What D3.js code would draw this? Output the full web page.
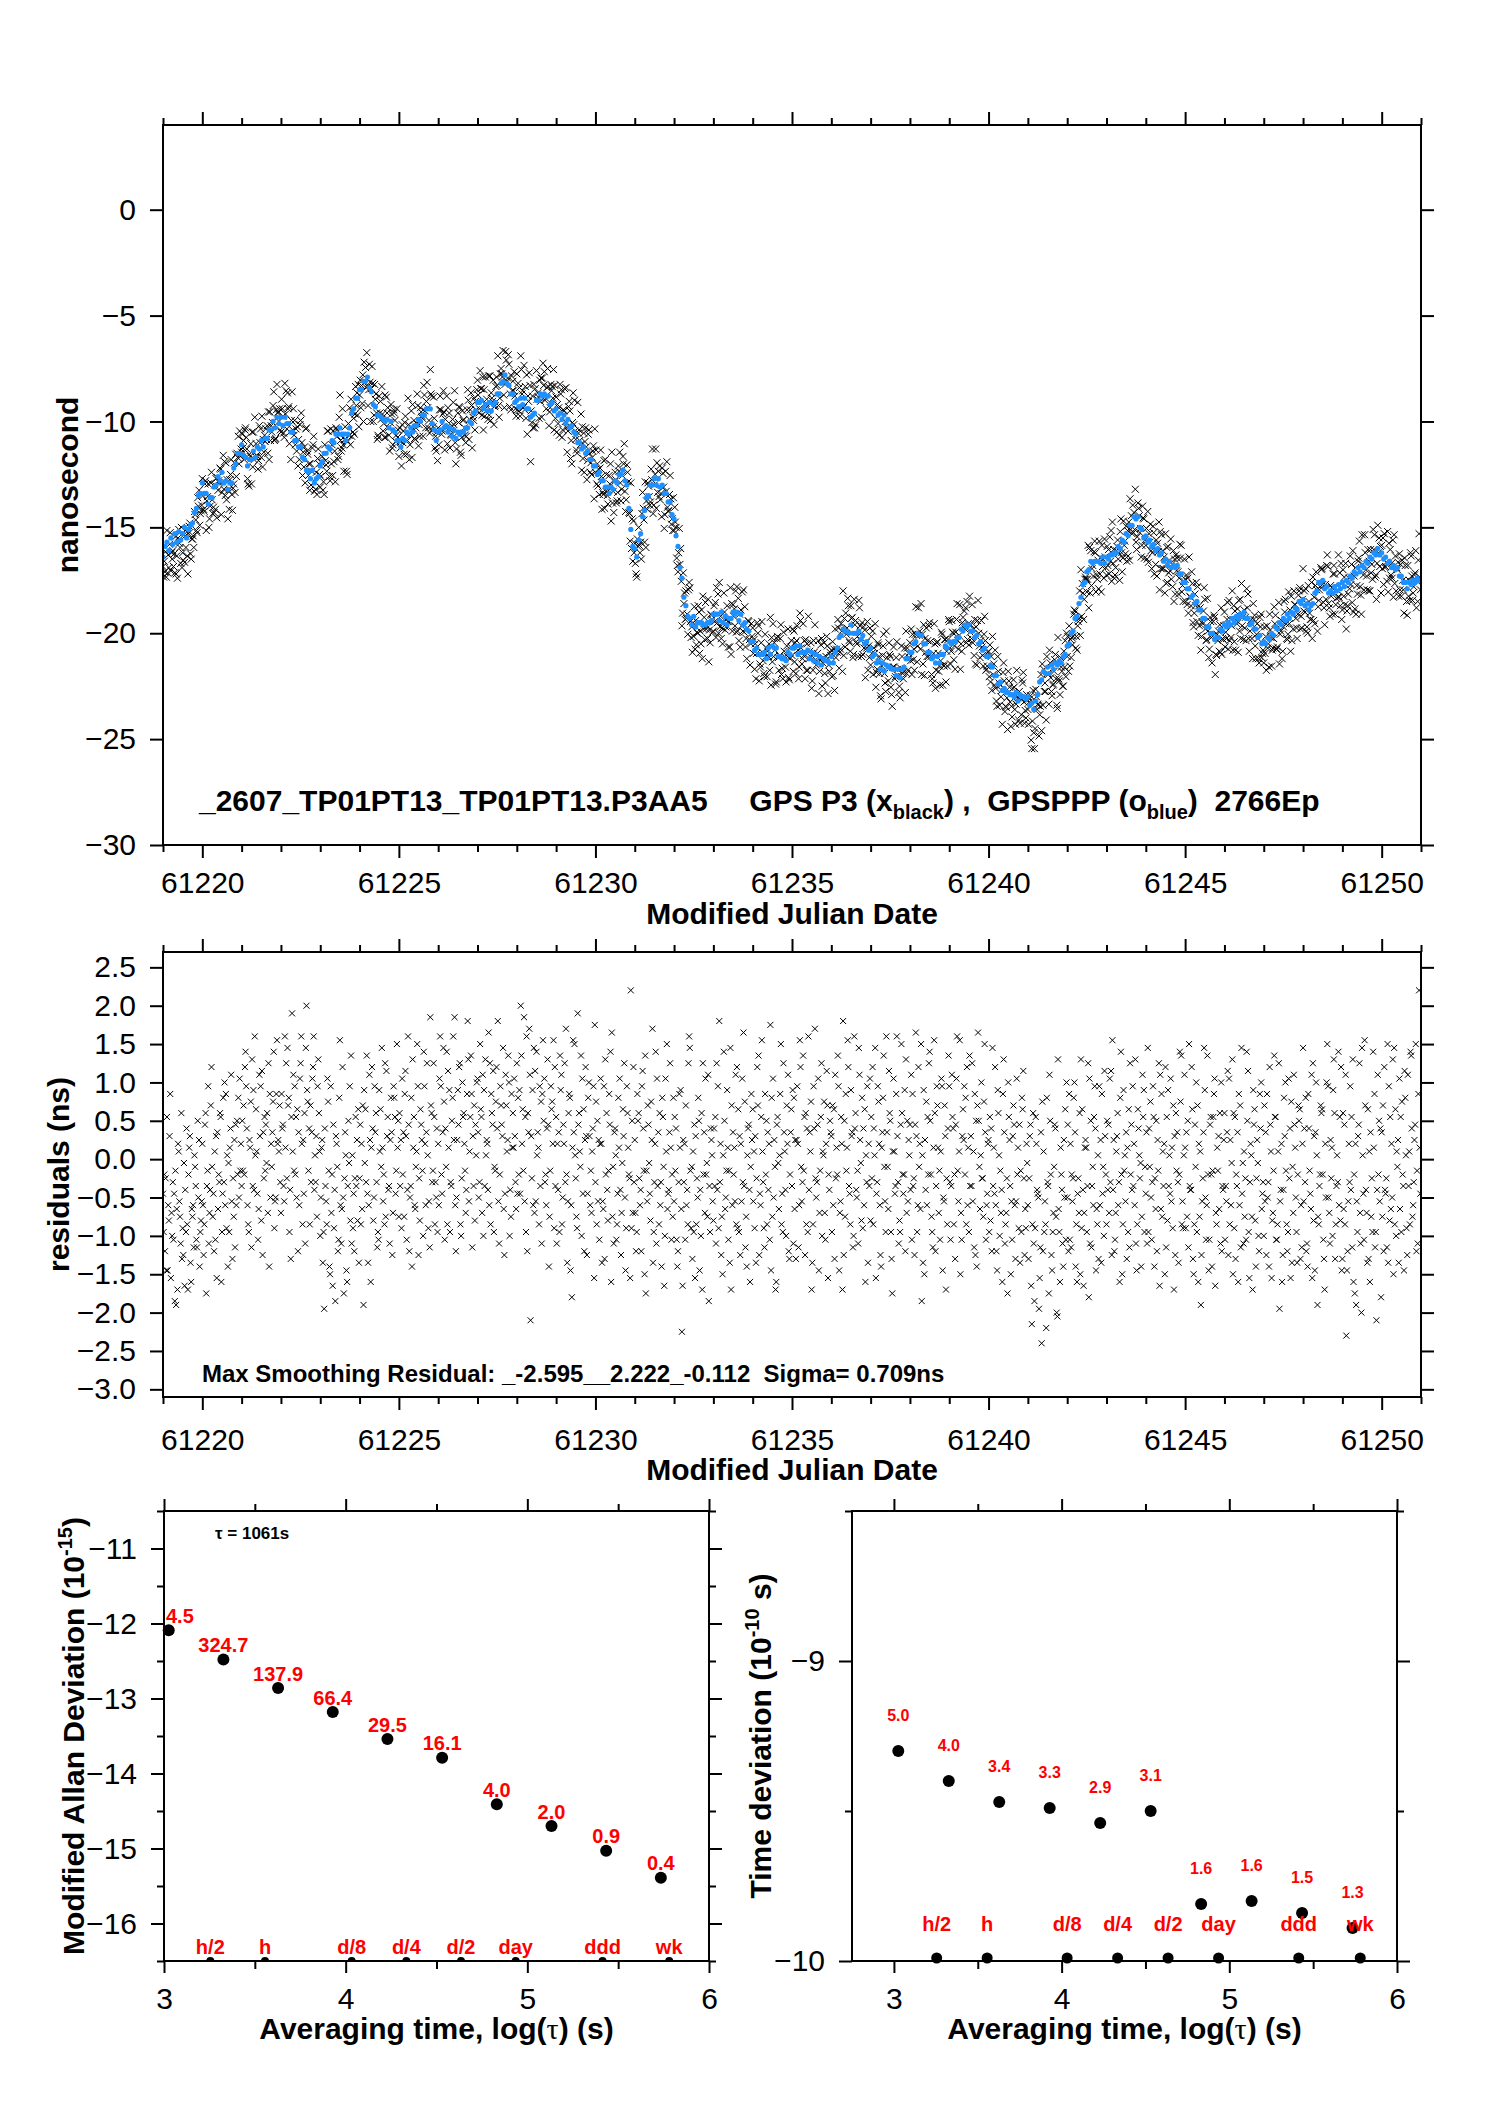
<!DOCTYPE html>
<html><head><meta charset="utf-8">
<script src="https://cdn.jsdelivr.net/npm/d3@7"></script>
<style>
body{margin:0;background:#fff;}
svg{display:block;font-family:"Liberation Sans",Arial,Helvetica,sans-serif;}
</style></head><body>
<svg id="chart" width="1488" height="2105"></svg>
<script>
// ---------------- DATA ----------------
const mjdStart = 61219.0;      // first sample (MJD)
const mjdStep = 0.05;          // blue sample spacing (day); black sets A,B,C are offset by 0, 1/3, 2/3 step
// smoothed GPSPPP series (blue), ns, 20 samples per day
const blueNs = [
-16.4,-15.9,-15.7,-16.1,-15.5,-15.8,-15.3,-15.7,-15.2,-15.6,-15.3,-15.0,-15.5,-15.1,-14.9,-14.8,-14.3,-14.1,-13.5,-13.4,
-12.9,-13.4,-13.4,-13.9,-13.6,-13.6,-13.1,-13.0,-12.6,-12.8,-12.4,-12.9,-12.8,-13.2,-12.9,-12.9,-12.2,-12.0,-11.5,-11.5,
-11.1,-11.6,-11.7,-12.1,-11.8,-11.8,-11.4,-11.7,-11.2,-11.3,-10.9,-11.2,-10.8,-10.8,-10.4,-10.4,-10.0,-10.3,-9.8,-10.1,
-9.8,-10.2,-9.8,-10.1,-10.1,-10.5,-10.5,-10.9,-10.9,-11.2,-11.2,-11.7,-11.8,-12.3,-12.4,-12.7,-12.3,-12.9,-12.7,-12.6,
-12.1,-11.9,-11.5,-11.5,-11.2,-11.3,-10.9,-11.0,-10.6,-10.6,-10.3,-10.6,-10.6,-10.9,-10.6,-10.3,-9.6,-9.4,-8.9,-8.9,
-8.5,-8.5,-8.1,-8.1,-7.9,-8.4,-8.6,-9.2,-9.3,-9.7,-9.7,-9.8,-9.9,-10.0,-9.9,-10.3,-10.0,-10.4,-10.5,-10.9,
-10.9,-11.2,-10.8,-10.9,-10.5,-10.6,-10.3,-10.5,-10.2,-10.2,-9.9,-10.0,-9.7,-9.7,-9.4,-9.4,-9.4,-10.1,-10.4,-10.9,
-10.5,-10.4,-10.0,-10.3,-10.2,-10.5,-10.3,-10.7,-10.4,-10.8,-10.5,-10.6,-10.5,-10.5,-10.3,-10.3,-10.0,-10.1,-9.6,-9.5,
-9.1,-9.1,-9.0,-9.4,-9.2,-9.5,-9.1,-9.5,-9.2,-9.1,-8.7,-8.7,-8.2,-8.1,-7.8,-8.2,-8.3,-8.7,-8.7,-9.1,
-9.0,-9.3,-8.9,-9.2,-8.9,-9.4,-9.4,-9.8,-9.7,-9.6,-9.0,-9.0,-8.7,-8.8,-8.7,-8.8,-8.8,-9.2,-9.1,-9.5,
-9.4,-9.7,-9.6,-9.9,-9.7,-10.1,-9.9,-10.3,-10.2,-10.5,-10.6,-11.0,-11.0,-11.3,-11.2,-11.5,-11.4,-11.8,-11.8,-12.1,
-12.1,-12.5,-12.4,-12.8,-12.8,-13.1,-13.1,-13.4,-13.1,-13.2,-12.8,-12.9,-12.5,-12.5,-12.3,-12.8,-13.0,-14.1,-15.1,-15.9,
-16.0,-16.4,-15.6,-15.3,-14.5,-14.2,-13.6,-13.5,-13.0,-13.0,-12.7,-13.0,-12.7,-13.1,-13.0,-13.4,-13.4,-13.8,-13.8,-14.4,
-14.6,-15.4,-15.9,-16.9,-17.4,-18.3,-18.7,-19.2,-19.3,-19.6,-19.2,-19.7,-19.5,-19.5,-19.5,-19.6,-19.6,-19.5,-19.5,-19.4,
-19.1,-19.1,-19.1,-19.4,-19.0,-19.5,-19.2,-19.6,-19.3,-19.3,-19.0,-19.1,-19.0,-19.4,-19.1,-19.6,-19.5,-19.8,-19.9,-20.4,
-20.4,-20.8,-20.7,-21.0,-21.0,-21.0,-20.9,-21.2,-20.7,-21.0,-20.6,-20.7,-20.7,-21.1,-21.1,-21.2,-21.2,-21.3,-20.9,-21.0,
-20.7,-20.7,-20.6,-21.0,-20.6,-20.9,-20.9,-20.9,-20.8,-21.2,-20.9,-21.3,-21.0,-21.4,-21.1,-21.5,-21.2,-21.3,-21.3,-21.4,
-21.1,-21.4,-20.9,-20.7,-20.2,-20.1,-19.8,-19.9,-19.9,-20.0,-19.6,-20.0,-20.0,-20.0,-19.9,-20.3,-20.1,-20.5,-20.4,-20.8,
-20.7,-21.1,-21.0,-21.4,-21.3,-21.7,-21.4,-21.8,-21.5,-21.6,-21.6,-21.7,-21.7,-22.0,-21.7,-22.1,-21.7,-21.6,-21.2,-21.2,
-20.9,-20.9,-20.5,-20.4,-20.0,-20.1,-20.1,-20.5,-20.5,-20.9,-20.9,-21.2,-21.1,-21.4,-21.1,-21.4,-21.0,-21.0,-20.6,-20.7,
-20.4,-20.5,-20.4,-20.4,-20.2,-20.2,-19.8,-19.9,-19.6,-19.7,-19.6,-19.9,-19.9,-20.2,-20.1,-20.5,-20.4,-20.8,-20.7,-21.1,
-21.1,-21.5,-21.6,-22.0,-22.0,-22.4,-22.3,-22.7,-22.6,-22.8,-22.8,-22.9,-22.9,-23.0,-22.8,-23.2,-22.9,-23.0,-23.0,-23.1,
-23.0,-23.4,-23.3,-23.6,-23.2,-22.9,-22.3,-22.2,-21.8,-21.9,-21.6,-21.9,-21.5,-21.7,-21.4,-21.5,-21.3,-21.4,-21.1,-21.0,
-20.6,-20.5,-20.0,-19.9,-19.3,-19.2,-18.6,-18.3,-17.7,-17.6,-17.1,-17.0,-16.6,-16.7,-16.6,-16.6,-16.6,-16.7,-16.4,-16.7,
-16.4,-16.5,-16.3,-16.3,-16.2,-16.2,-15.9,-16.0,-15.6,-15.7,-15.3,-15.4,-14.9,-14.9,-14.5,-14.6,-14.5,-15.0,-15.1,-15.5,
-15.4,-15.7,-15.6,-15.9,-15.8,-16.1,-16.0,-16.3,-16.2,-16.6,-16.5,-16.8,-16.6,-16.9,-16.8,-16.9,-16.8,-17.2,-17.2,-17.6,
-17.6,-17.9,-17.9,-18.3,-18.2,-18.6,-18.5,-18.9,-18.9,-19.3,-19.3,-19.7,-19.7,-20.0,-20.0,-20.3,-20.2,-20.2,-19.8,-19.9,
-19.6,-19.7,-19.5,-19.6,-19.3,-19.5,-19.2,-19.3,-19.1,-19.2,-19.0,-19.3,-19.3,-19.6,-19.5,-19.8,-19.8,-20.2,-20.1,-20.5,
-20.4,-20.5,-20.2,-20.3,-20.0,-20.1,-19.7,-19.8,-19.5,-19.6,-19.3,-19.4,-19.1,-19.3,-19.0,-19.1,-18.8,-18.9,-18.5,-18.6,
-18.4,-18.7,-18.6,-18.9,-18.7,-18.6,-18.1,-18.0,-17.6,-17.6,-17.5,-17.9,-17.8,-18.1,-18.0,-18.1,-17.8,-18.0,-17.7,-17.9,
-17.6,-17.8,-17.5,-17.6,-17.3,-17.4,-17.1,-17.2,-16.9,-17.1,-16.8,-16.9,-16.6,-16.7,-16.4,-16.5,-16.2,-16.3,-16.0,-16.3,
-16.2,-16.5,-16.4,-16.7,-16.6,-16.9,-16.8,-17.0,-16.9,-17.3,-17.3,-17.6,-17.6,-17.9,-17.6,-17.7,-17.5,-17.6,-17.4,-17.5
];
// smoothing residuals of GPS P3 (black) about the blue curve, ns — set A (offset 0)
const residA = [
-0.45,-1.20,0.55,-0.80,-1.55,-0.30,-1.85,-0.65,0.10,-1.10,-0.90,-1.65,0.40,-0.20,-1.35,-0.75,0.05,-1.05,-0.50,-0.95,
0.20,-0.85,-1.75,0.95,-0.40,-0.10,-1.20,0.30,-0.65,0.60,-0.95,-0.30,0.85,-1.40,0.15,-0.55,-0.75,0.45,-0.20,1.05,
-0.35,0.70,1.40,-0.60,0.25,-1.15,0.90,0.05,-0.45,1.10,-0.80,0.35,-0.15,0.60,-1.40,0.20,0.75,-0.55,1.55,0.10,
-0.70,0.45,1.60,-0.25,0.80,-1.30,0.10,0.95,-0.50,0.35,1.25,-0.85,0.60,2.00,-0.15,0.70,1.05,-0.40,0.30,1.30,
-1.00,0.25,-1.95,-0.55,0.75,-1.50,-0.20,-0.90,0.30,-1.20,1.55,-0.65,-1.75,0.05,-0.35,0.95,-1.10,-0.45,0.55,-0.80,
-0.25,0.20,-1.90,0.65,-0.45,1.10,0.15,-0.80,0.35,-1.15,0.90,-0.10,-0.55,1.25,0.30,-0.35,0.80,-0.70,0.55,1.50,
-0.75,0.25,-0.20,0.85,-1.05,0.45,-0.35,1.30,-0.60,0.10,-1.25,0.65,-0.15,0.95,0.35,-0.90,1.85,-0.30,0.55,-0.50,
0.20,1.60,-0.45,0.75,-0.10,1.15,-0.95,0.50,0.25,-1.20,0.90,1.25,-0.25,0.60,-0.70,1.80,0.10,0.85,-0.35,0.45,
1.05,-0.30,0.55,-1.00,1.30,0.20,-0.60,0.85,1.15,-0.15,0.40,-1.10,0.70,1.45,-0.45,0.10,1.00,-0.75,0.60,0.30,
1.25,-0.20,2.00,0.65,-0.55,1.60,0.35,-2.10,0.90,-0.70,1.40,0.15,-0.35,0.85,1.05,-0.60,0.45,-0.15,0.75,-0.90,
0.55,-0.40,1.35,-0.85,0.20,1.70,-0.55,0.80,-1.80,0.35,-0.25,1.90,0.10,-1.00,0.65,1.20,-0.45,0.30,-0.70,0.95,
-0.30,0.50,-1.05,0.20,-0.65,1.30,-0.40,0.85,-1.60,-0.10,0.40,-0.85,0.15,-1.25,0.65,-0.50,0.95,-0.20,2.20,-0.70,
0.25,-0.95,0.60,-0.40,1.15,-1.50,-0.15,0.45,-0.80,1.70,-0.30,-1.10,0.35,-0.60,0.80,-1.65,0.10,-0.45,1.25,-0.20,
-0.55,0.40,-1.20,0.15,-2.25,-0.30,0.70,-0.85,1.45,-0.10,-0.95,0.30,-0.50,-1.45,0.60,-0.20,1.05,-0.75,-0.35,0.25,
-0.80,0.55,-0.40,1.80,-1.25,0.05,-0.65,0.90,-0.15,-1.70,0.35,-0.55,1.20,-0.95,0.20,-0.30,0.75,-1.40,0.45,-0.10,
0.65,-0.90,-0.25,1.35,-0.60,0.10,-1.15,0.50,-0.40,1.75,-0.75,0.25,-1.60,-0.05,0.85,-0.45,0.35,-1.00,1.10,-0.20,
-0.35,0.80,-1.30,0.20,1.55,-0.55,-0.15,0.60,-0.95,0.35,-1.70,0.95,-0.25,0.45,-0.70,1.25,0.05,-1.05,0.70,-0.40,
0.30,-0.60,1.10,-0.20,-1.45,0.55,1.80,-0.75,0.15,-0.35,0.90,-1.15,0.40,-0.50,1.45,-0.05,-0.90,0.65,-0.30,0.20,
-0.80,1.20,0.05,-0.45,0.75,-1.25,0.35,-0.10,1.60,-0.65,0.50,-1.75,0.10,0.85,-0.30,-0.95,0.60,-0.20,1.30,-0.55,
0.45,-1.05,-0.25,1.65,-0.60,0.20,-1.85,0.90,-0.40,0.55,1.40,-0.75,0.15,-1.20,0.70,-0.15,1.05,-0.50,0.30,-0.85,
0.95,-0.35,0.40,-1.30,1.60,0.10,-0.70,0.65,-0.20,1.20,-0.95,0.30,-0.55,0.85,-1.40,0.50,0.05,-0.25,1.50,-0.60,
0.25,-0.80,1.45,-0.45,-1.20,0.60,-0.15,-1.60,0.35,-0.70,1.00,-0.35,-1.05,0.45,-0.55,0.15,-1.35,0.80,-0.25,-0.90,
-0.60,0.30,-2.15,-1.10,0.55,-0.45,-1.55,-2.40,0.10,-0.85,-0.30,1.10,-1.25,-0.70,0.40,-2.05,-0.95,-0.20,-1.40,0.65,
-0.50,0.85,-1.15,-0.25,0.35,-1.60,-0.70,1.30,-0.40,0.15,-0.95,-1.80,0.50,-0.10,0.95,-0.65,-1.30,0.25,-0.45,1.15,
-0.85,0.45,-0.30,1.55,-1.20,0.10,-0.60,0.80,-1.50,-0.15,0.35,-0.95,1.25,-0.40,0.20,-1.10,0.65,-0.25,-0.75,0.90,
-0.45,1.45,-0.10,-1.05,0.55,-0.65,0.25,-1.65,0.85,-0.35,1.20,-0.80,0.05,-0.55,0.70,-1.25,0.35,-0.20,1.35,-0.90,
0.15,-0.75,1.50,-0.40,-1.30,0.45,-0.95,0.20,-1.90,-0.25,0.90,-0.60,-1.45,0.55,-0.15,1.05,-0.85,0.30,-1.10,-0.35,
0.60,-0.55,-1.25,0.25,1.30,-0.90,-0.20,-1.60,0.70,-0.45,0.10,-1.05,1.15,-0.30,-0.75,0.45,-1.40,-0.05,0.85,-0.65,
-1.00,0.35,-0.50,1.20,-1.55,-0.15,0.55,-0.85,-1.95,0.20,-0.40,1.00,-1.20,-0.25,0.75,-0.70,0.15,-1.35,0.50,-0.60,
1.45,-0.30,-1.10,0.40,-0.65,1.25,-1.45,0.05,-0.85,0.70,-0.20,-1.70,1.00,-0.50,0.25,-1.00,0.60,-0.35,1.40,-0.80,
-1.30,0.45,-2.30,-0.55,0.95,-1.15,-0.20,-1.90,0.30,-0.70,1.45,-1.05,-0.40,0.65,-1.60,-0.25,0.15,-0.95,1.10,-0.55,
0.35,-1.20,-0.45,1.50,-0.80,0.20,-1.50,0.65,-0.10,1.05,-0.95,-0.35,0.80,-1.25,0.10,1.35,-0.60,0.45,-0.15,2.20
];
// set B (offset 1/3 step)
const residB = [
-0.95,-0.25,-1.45,0.30,-0.70,-1.05,-0.15,-1.70,-0.55,0.60,-1.25,-0.40,-0.85,0.15,-1.60,-0.60,-0.10,-1.15,0.25,-0.80,
-0.60,0.45,-0.35,-1.10,0.70,-0.75,0.10,-1.55,-0.20,0.55,-0.45,1.00,-0.90,-0.05,0.40,-1.30,0.25,-0.60,0.80,-0.15,
0.50,-0.20,0.95,-0.85,0.15,1.30,-0.40,0.65,-1.05,0.30,1.15,-0.25,0.45,-0.70,0.85,-0.10,1.40,-0.50,0.20,0.70,
0.85,-0.35,0.15,1.45,-0.95,0.55,1.10,-0.20,0.65,-0.60,1.60,0.25,-1.10,0.90,0.40,-0.30,1.20,0.05,-0.75,0.60,
-0.50,-1.35,0.40,-0.85,-0.15,0.95,-1.65,-0.40,0.20,-1.05,-0.60,1.20,-0.25,-1.45,0.50,-0.80,0.05,-1.20,-0.35,0.65,
0.45,-0.65,0.90,-0.30,-1.35,0.25,1.20,-0.50,0.60,-0.95,0.10,1.45,-0.20,-0.75,0.55,-1.10,0.35,0.95,-0.45,0.15,
0.60,-0.90,0.35,1.15,-0.40,-1.20,0.80,0.15,-0.65,1.50,-0.25,0.45,-1.00,0.20,1.25,-0.55,0.70,-0.15,-0.85,0.40,
-0.60,0.95,0.35,-1.05,1.40,0.15,-0.30,0.80,1.85,-0.50,0.45,-0.85,1.00,0.20,-0.40,1.30,0.55,-1.15,0.70,0.05,
0.35,1.50,-0.70,0.90,0.05,-0.40,1.25,0.60,-0.95,0.75,1.80,-0.20,0.45,-0.65,1.10,0.25,-1.00,0.85,0.15,-0.30,
-0.45,0.90,1.35,-0.15,0.55,-1.20,1.70,0.30,-0.60,1.15,0.05,-0.85,0.75,1.55,-0.30,0.40,-1.40,0.95,0.20,1.20,
-1.10,0.35,0.90,-0.50,1.25,-0.20,0.60,-1.45,0.15,1.50,-0.75,0.45,-0.10,1.05,-1.20,0.30,0.80,-0.60,0.10,-1.55,
0.75,-0.55,0.20,-1.35,0.95,-0.20,-0.80,0.45,1.65,-1.10,0.05,-0.45,1.05,-0.70,0.30,-1.45,0.60,-0.25,-0.90,1.20,
-0.70,0.85,-0.25,-1.20,0.40,1.35,-0.55,-0.05,0.75,-1.35,0.20,1.05,-0.85,-0.30,0.55,-1.00,1.50,-0.40,0.15,-0.75,
0.55,-1.05,-0.30,0.90,-1.65,0.20,-0.60,1.25,-0.15,-1.30,0.45,-0.85,0.80,-0.40,-1.70,0.35,-0.20,1.10,-0.95,0.05,
0.40,-1.10,0.95,-0.30,-0.75,1.40,-0.50,0.15,-1.35,0.70,-0.20,1.10,-0.90,0.30,-0.55,1.65,-1.15,0.05,-0.40,0.85,
-0.55,0.30,1.20,-1.25,0.55,-0.30,0.85,-0.85,0.20,-1.45,1.05,-0.10,0.45,-0.65,1.50,-0.95,0.10,0.70,-1.20,0.35,
0.90,-0.65,0.25,-1.15,1.20,-0.30,0.55,-0.85,1.60,0.10,-1.35,0.40,-0.50,1.05,-0.15,-1.00,0.75,0.20,-1.55,0.50,
-0.95,0.65,-0.25,1.35,-0.70,0.20,-1.25,0.85,1.55,-0.45,0.30,-1.00,0.60,-0.15,1.10,-0.80,0.40,-1.60,0.95,-0.35,
0.55,-0.85,1.45,-0.30,0.20,-1.40,0.80,-0.55,0.35,1.15,-0.95,0.10,-0.45,1.60,-1.10,0.45,-0.20,0.90,-0.70,0.25,
-0.40,0.85,-1.25,0.30,1.20,-0.65,0.05,-1.50,0.75,-0.20,0.50,-0.95,1.55,-0.35,0.15,-1.05,0.95,-0.55,-1.70,0.40,
-0.30,1.10,-0.85,0.45,-0.15,1.55,-1.05,0.25,0.80,-0.60,1.35,-0.35,0.10,-1.25,0.70,-0.10,1.00,-0.75,0.35,-0.45,
-0.95,0.40,-0.35,1.20,-1.45,0.05,-0.70,0.85,-1.10,-0.25,0.55,-1.50,0.30,-0.60,1.05,-0.90,-0.15,0.65,-1.25,0.20,
-1.30,0.45,-0.85,-1.85,0.20,-0.50,-1.15,0.75,-0.95,-2.20,-0.35,0.50,-1.45,-0.10,-0.75,1.30,-1.60,-0.40,0.25,-1.05,
0.45,-1.05,-0.20,0.80,-1.40,-0.45,0.60,-0.90,-1.65,0.25,-0.35,1.05,-1.15,-0.60,0.40,-0.85,0.95,-1.35,-0.10,0.30,
0.50,-0.70,1.15,-0.40,-1.05,0.30,-0.30,1.40,-0.85,0.05,-1.30,0.65,-0.20,0.95,-0.60,-1.45,0.40,-0.05,1.10,-0.95,
0.35,-0.95,0.75,-0.30,-1.40,0.50,-0.15,1.10,-0.75,0.20,-1.15,0.90,-0.45,0.15,-1.70,0.60,-0.30,1.40,-0.85,0.05,
-0.90,0.50,-0.35,1.20,-1.50,-0.10,0.70,-0.75,-1.25,0.35,-0.50,1.35,-1.05,-0.20,0.55,-1.65,0.15,-0.65,1.00,-0.40,
-1.05,0.35,1.05,-0.60,-1.50,0.55,-0.35,0.85,-1.15,-0.05,-0.75,1.40,-0.95,0.20,-1.70,0.65,-0.25,-1.00,0.40,-0.45,
0.70,-1.25,-0.30,0.45,-0.80,1.35,-1.05,0.10,-0.55,-1.60,0.80,-0.15,-0.95,0.40,-1.35,1.10,-0.50,-0.20,0.65,-1.15,
-0.55,0.80,-1.40,-0.15,1.10,-0.80,0.35,-1.90,-0.35,0.60,-1.05,0.20,1.50,-0.70,-0.25,0.90,-1.30,0.05,-0.60,1.20,
0.60,-0.85,-1.45,0.20,-0.40,1.30,-1.75,-0.55,0.45,-1.10,0.05,1.55,-0.70,-1.30,0.35,-0.95,0.85,-2.10,-0.20,0.40,
-0.75,1.20,-0.25,-1.35,0.55,-0.50,1.45,-1.00,0.25,-0.65,0.75,-1.45,0.05,1.10,-0.85,0.40,-0.30,1.50,-1.10,0.15
];
// set C (offset 2/3 step)
const residC = [
-0.20,-1.45,-0.60,0.85,-1.00,-0.45,-1.90,0.20,-0.75,-1.30,-0.05,-0.95,-1.70,0.30,-0.65,-1.15,-0.35,0.50,-1.40,-0.55,
-1.25,0.60,-0.15,-0.70,1.20,-0.45,-1.05,0.35,-0.30,-1.60,0.80,-0.60,0.05,-0.95,1.10,-0.25,-1.15,0.50,-0.50,0.20,
-0.15,1.20,0.40,-0.95,0.75,-0.35,1.60,0.10,-0.65,0.95,-1.25,0.55,-0.05,1.25,-0.50,0.35,-0.90,0.85,0.25,-0.30,
0.40,-0.55,1.25,0.70,-0.40,1.90,-0.15,0.55,-1.20,1.05,0.20,-0.45,1.45,0.75,-0.85,0.35,1.60,-0.30,0.95,0.10,
0.15,-0.95,-0.35,1.05,-1.40,-0.70,0.45,-1.85,-0.10,0.80,-1.10,-0.50,0.35,-1.60,-0.05,1.35,-0.90,-0.25,0.25,-1.35,
-0.85,0.70,-0.05,1.35,-0.60,-1.60,0.40,0.95,-0.30,-1.05,0.65,0.15,-0.85,1.15,-0.40,0.25,-1.25,0.80,-0.15,0.50,
-0.35,1.05,-0.75,0.30,1.60,-0.50,-1.40,0.55,-0.10,0.95,-0.80,0.25,1.40,-0.60,0.05,-1.15,0.60,1.25,-0.30,-0.95,
1.05,-0.20,1.45,0.40,-0.85,0.90,-0.35,1.60,-0.60,0.25,1.20,-1.00,0.55,-0.15,0.85,-0.55,1.35,0.30,-0.80,1.00,
-0.50,0.65,1.10,-0.35,0.25,1.65,-0.85,0.45,-0.10,1.20,-0.55,0.95,0.30,-1.25,0.70,1.35,-0.40,0.15,1.05,-0.65,
0.80,-0.45,0.20,1.85,-0.95,0.60,1.10,-0.25,1.45,-0.55,0.35,0.95,-1.10,0.50,-0.20,1.30,-0.75,0.65,1.55,-0.35,
0.20,-0.95,1.10,0.45,-0.30,-1.35,0.85,-0.60,1.55,0.05,-0.90,0.60,1.35,-0.45,0.25,-1.25,1.00,-0.15,0.40,1.75,
-0.85,0.25,1.05,-0.55,-1.30,0.60,-0.15,1.40,-0.75,0.35,-1.05,0.80,-0.40,-0.05,1.25,-0.90,0.15,-1.55,0.50,-0.30,
-1.20,0.50,-0.60,0.95,-0.15,-1.75,0.70,-0.45,0.25,-0.95,1.40,-0.35,0.60,-1.40,-0.10,1.05,-0.65,0.35,-1.05,0.80,
-0.15,-1.40,0.85,-0.65,0.25,-1.05,-0.40,1.60,-0.90,0.10,-1.55,-0.25,0.50,-1.00,1.25,-0.70,-0.05,-1.85,0.40,-0.55,
-0.35,1.25,-0.90,0.20,-1.50,0.50,-0.15,-1.05,1.45,-0.60,0.15,-0.85,0.65,-1.25,1.05,-0.35,-0.75,0.40,-1.60,0.25,
0.10,-1.35,0.70,-0.45,1.55,-0.90,-0.20,0.35,-1.05,0.80,-0.50,-1.70,0.55,0.05,-0.85,1.25,-0.40,0.20,-1.30,0.65,
-1.10,0.25,0.95,-0.60,-0.10,1.35,-1.25,0.40,-0.40,0.75,-0.85,1.70,-0.30,-1.45,0.55,0.10,-0.70,1.15,-0.20,0.35,
0.70,-1.30,0.15,0.95,-0.55,-1.70,0.50,-0.15,1.20,-0.85,0.35,1.60,-0.40,-1.10,0.25,0.80,-0.60,0.05,-1.35,1.05,
-0.25,0.40,-1.55,0.95,-0.60,0.15,1.35,-0.95,-0.10,0.60,-1.30,1.05,-0.35,0.30,-0.80,1.50,-0.45,-1.20,0.50,0.05,
1.10,-0.35,0.45,-0.95,-0.10,1.50,-1.35,0.25,-0.60,1.25,-0.20,-1.15,0.60,0.95,-0.70,0.10,-1.45,0.70,-0.25,1.35,
-1.05,0.55,-0.20,1.05,-0.55,-1.50,0.30,0.95,-0.85,0.15,-0.35,1.25,-1.15,0.50,1.65,-0.65,-0.25,0.75,-1.05,0.20,
0.55,-1.20,0.15,-0.60,0.90,-1.00,-0.40,1.30,-0.85,-1.75,0.25,-0.55,0.70,-1.30,-0.20,0.45,-0.95,1.15,-0.65,-0.05,
-0.25,-1.65,0.60,-0.90,-0.40,-1.95,0.35,-1.20,-0.55,0.80,-1.75,-0.20,-0.95,0.45,-2.00,-0.65,0.15,-1.10,-0.50,1.00,
-1.20,0.20,-0.55,1.00,-0.85,-0.25,-1.50,0.65,-0.70,0.15,1.25,-1.10,-0.35,0.55,-1.45,0.05,-0.60,0.85,-1.00,-0.20,
-0.40,1.05,-1.25,0.25,-0.70,0.60,-1.60,-0.20,0.90,-0.55,0.15,-1.15,0.45,-0.35,1.30,-0.85,0.05,-1.40,0.55,-0.10,
-1.10,0.40,-0.50,0.95,-0.25,-1.20,1.25,-0.65,0.10,-1.50,0.55,-0.35,1.05,-0.90,0.30,-0.15,-1.35,0.75,-0.55,1.10,
0.35,-1.15,-0.40,0.65,-0.85,1.00,-1.60,0.10,-0.55,1.45,-1.05,-0.20,0.45,-1.40,0.85,-0.70,-0.15,0.60,-1.20,0.25,
-0.35,1.15,-0.85,-0.05,0.60,-1.30,0.35,-0.60,1.45,-1.10,-0.25,0.50,-1.55,0.05,0.90,-0.80,0.25,-1.20,1.00,-0.30,
-0.55,0.85,-1.40,0.10,-0.70,0.55,-1.05,1.25,-0.40,-1.25,0.30,-0.85,1.05,-1.55,-0.10,0.45,-0.95,0.70,-1.30,0.20,
0.40,-1.20,0.85,-0.45,-1.55,0.30,1.00,-0.75,-0.20,0.65,-1.30,-0.50,0.95,-1.10,0.15,1.30,-0.85,-0.30,0.55,-1.45,
-0.65,1.10,-1.20,-0.30,0.55,-1.60,0.20,-0.95,1.25,-2.00,-0.45,0.70,-1.35,0.10,-0.75,1.40,-1.15,-0.40,0.50,-1.80,
0.70,-0.40,-1.15,0.95,-0.65,1.30,-0.85,0.10,-1.35,0.55,-0.20,1.15,-0.90,-0.35,1.40,-0.75,0.25,-1.20,0.85,-0.45
];
// stability analysis (bottom panels)
const logTau = [3.026, 3.327, 3.628, 3.929, 4.230, 4.531, 4.832, 5.133, 5.434, 5.735];
const logMdev = [-12.09, -12.48, -12.86, -13.18, -13.54, -13.79, -14.41, -14.70, -15.03, -15.39];
const mdevLabels = ["4.5", "324.7", "137.9", "66.4", "29.5", "16.1", "4.0", "2.0", "0.9", "0.4"];
const logTdev = [-9.30, -9.40, -9.47, -9.49, -9.54, -9.50, -9.81, -9.80, -9.84, -9.89];
const tdevLabels = ["5.0", "4.0", "3.4", "3.3", "2.9", "3.1", "1.6", "1.6", "1.5", "1.3"];
const spanNames = ["h/2", "h", "d/8", "d/4", "d/2", "day", "ddd", "wk"];
const spanLogTau = [3.255, 3.556, 4.033, 4.334, 4.635, 4.936, 5.414, 5.781];
// tick values
const mjdMajorTicks = [61220, 61225, 61230, 61235, 61240, 61245, 61250];
const nsTicks = [0, -5, -10, -15, -20, -25, -30];
const residTicks = [2.5, 2.0, 1.5, 1.0, 0.5, 0.0, -0.5, -1.0, -1.5, -2.0, -2.5, -3.0];
const mdevTicks = [-11, -12, -13, -14, -15, -16];
const tdevTicks = [-9, -10];
const logTauTicks = [3, 4, 5, 6];
// texts
const topNote = ["_2607_TP01PT13_TP01PT13.P3AA5     GPS P3 (x", "black", ") ,  GPSPPP (o", "blue", ")  2766Ep"];
const residNote = "Max Smoothing Residual: _-2.595__2.222_-0.112  Sigma= 0.709ns";

// ---------------- LAYOUT ----------------
const FONT = "'Liberation Sans', Arial, Helvetica, sans-serif";
const P1 = {l:163, r:1421, t:125, b:845};
const P2 = {l:163, r:1421, t:952, b:1397};
const P3 = {l:164, r:709, t:1511, b:1961};
const P4 = {l:852, r:1397, t:1511, b:1961};
const svg = d3.select("#chart");
svg.append("rect").attr("width",1488).attr("height",2105).attr("fill","#fff");
const defs = svg.append("defs");
function clip(id, P){
  defs.append("clipPath").attr("id",id).append("rect")
    .attr("x",P.l).attr("y",P.t).attr("width",P.r-P.l).attr("height",P.b-P.t);
}
clip("c1",P1); clip("c2",P2); clip("c3",P3);

function frame(P){
  svg.append("rect").attr("x",P.l).attr("y",P.t).attr("width",P.r-P.l).attr("height",P.b-P.t)
    .attr("fill","none").attr("stroke","#000").attr("stroke-width",2);
}
function axis(gen, tx, ty, vals, size, pad, fmt){
  const g = svg.append("g").attr("transform",`translate(${tx},${ty})`)
    .call(gen.tickValues(vals).tickSize(size).tickPadding(pad).tickFormat(fmt || (()=>"")));
  g.select(".domain").remove();
  g.selectAll("line").attr("stroke","#000").attr("stroke-width",2);
  g.selectAll("text").attr("font-size",30).attr("font-family",FONT).attr("fill","#000");
  return g;
}
const xMark = s => `M${-s},${-s}L${s},${s}M${-s},${s}L${s},${-s}`;
// black samples: each residual set k sits at mjdStart + (i + k/3)*mjdStep
const blackPts = [];
[residA, residB, residC].forEach((set, k) => {
  set.forEach((r, i) => {
    if (i < blueNs.length) blackPts.push({t: mjdStart + (i + k/3)*mjdStep, r: r, v: blueNs[i] + r});
  });
});
const bluePts = blueNs.map((v,i)=>({t: mjdStart + i*mjdStep, v: v}));

// ---------------- PANEL 1 ----------------
const x1 = d3.scaleLinear([61219, 61251],[P1.l,P1.r]);
const y1 = d3.scaleLinear([-30, 4],[P1.b,P1.t]);
const mjdMinor = d3.range(61219, 61252).filter(d=>!mjdMajorTicks.includes(d));
const g1 = svg.append("g").attr("clip-path","url(#c1)");
g1.selectAll("path").data(blackPts).join("path")
  .attr("d", xMark(3.5)).attr("fill","none").attr("stroke","#000").attr("stroke-width",1)
  .attr("transform", d=>`translate(${x1(d.t)},${y1(d.v)})`);
g1.selectAll("circle").data(bluePts).join("circle")
  .attr("cx", d=>x1(d.t)).attr("cy", d=>y1(d.v)).attr("r",2.6).attr("fill","#1e90ff");
frame(P1);
axis(d3.axisBottom(x1), 0, P1.b, mjdMajorTicks, 13, 14, d3.format("d"));
axis(d3.axisBottom(x1), 0, P1.b, mjdMinor, 7, 0);
axis(d3.axisTop(x1), 0, P1.t, mjdMajorTicks, 13, 0);
axis(d3.axisTop(x1), 0, P1.t, mjdMinor, 7, 0);
axis(d3.axisLeft(y1), P1.l, 0, nsTicks, 13, 14, d3.format("d"));
axis(d3.axisRight(y1), P1.r, 0, nsTicks, 13, 0);
const t1 = svg.append("text").attr("x",199).attr("y",811).attr("font-size",30).attr("font-weight","bold")
  .attr("font-family",FONT).style("white-space","pre");
t1.append("tspan").text(topNote[0]);
t1.append("tspan").attr("font-size",20).attr("dy",8).text(topNote[1]);
t1.append("tspan").attr("dy",-8).text(topNote[2]);
t1.append("tspan").attr("font-size",20).attr("dy",8).text(topNote[3]);
t1.append("tspan").attr("dy",-8).text(topNote[4]);
svg.append("text").attr("x",(P1.l+P1.r)/2).attr("y",P1.b+79).attr("text-anchor","middle")
  .attr("font-size",30).attr("font-weight","bold").attr("font-family",FONT).text("Modified Julian Date");
svg.append("text").attr("transform",`translate(78,${(P1.t+P1.b)/2}) rotate(-90)`).attr("text-anchor","middle")
  .attr("font-size",30).attr("font-weight","bold").attr("font-family",FONT).text("nanosecond");

// ---------------- PANEL 2 ----------------
const x2 = d3.scaleLinear([61219, 61251],[P2.l,P2.r]);
const y2 = d3.scaleLinear([-3.1, 2.7],[P2.b,P2.t]);
const g2 = svg.append("g").attr("clip-path","url(#c2)");
g2.selectAll("path").data(blackPts).join("path")
  .attr("d", xMark(3)).attr("fill","none").attr("stroke","#000").attr("stroke-width",1)
  .attr("transform", d=>`translate(${x2(d.t)},${y2(d.r)})`);
frame(P2);
axis(d3.axisBottom(x2), 0, P2.b, mjdMajorTicks, 13, 19, d3.format("d"));
axis(d3.axisBottom(x2), 0, P2.b, mjdMinor, 7, 0);
axis(d3.axisTop(x2), 0, P2.t, mjdMajorTicks, 13, 0);
axis(d3.axisTop(x2), 0, P2.t, mjdMinor, 7, 0);
axis(d3.axisLeft(y2), P2.l, 0, residTicks, 13, 14, d3.format(".1f"));
axis(d3.axisRight(y2), P2.r, 0, residTicks, 13, 0);
svg.append("text").attr("x",202).attr("y",1382).attr("font-size",24).attr("font-weight","bold")
  .attr("font-family",FONT).style("white-space","pre").text(residNote);
svg.append("text").attr("x",(P2.l+P2.r)/2).attr("y",P2.b+83).attr("text-anchor","middle")
  .attr("font-size",30).attr("font-weight","bold").attr("font-family",FONT).text("Modified Julian Date");
svg.append("text").attr("transform",`translate(69,${(P2.t+P2.b)/2}) rotate(-90)`).attr("text-anchor","middle")
  .attr("font-size",30).attr("font-weight","bold").attr("font-family",FONT).text("residuals (ns)");

// ---------------- STABILITY PANELS ----------------
const halfTicks = (a,b)=> d3.range(a*2, b*2+1).map(d=>d/2);
function stabilityPanel(P, xDom, yDom, yVals, yMajor, valLabels, labelSize, markR, markDy, clipId){
  const x = d3.scaleLinear(xDom,[P.l,P.r]);
  const y = d3.scaleLinear(yDom,[P.b,P.t]);
  const xAll = halfTicks(3,6);
  const xMinor = xAll.filter(d=>!logTauTicks.includes(d));
  const yMinor = halfTicks(yDom[0], yDom[1]).filter(d=>!yMajor.includes(d));
  const gm = clipId ? svg.append("g").attr("clip-path",`url(#${clipId})`) : svg.append("g");
  const g = svg.append("g");
  gm.selectAll("circle").data(spanLogTau).join("circle")
    .attr("cx", d=>x(d)).attr("cy", y(yDom[0]) + markDy).attr("r", markR).attr("fill","#000");
  g.selectAll("circle").data(logTau).join("circle")
    .attr("cx", d=>x(d)).attr("cy", (d,i)=>y(yVals[i])).attr("r",6).attr("fill","#000");
  g.selectAll("text.v").data(valLabels).join("text").attr("class","v")
    .attr("x",(d,i)=>x(logTau[i])).attr("y",(d,i)=>y(yVals[i]+0.1)).attr("text-anchor","middle")
    .attr("font-size",labelSize).attr("font-weight","bold").attr("font-family",FONT).attr("fill","#ff0000")
    .text(d=>d)
    .each(function(d,i){
      const w = this.getComputedTextLength();
      const cx = x(logTau[i]);
      if (cx - w/2 < P.l + 2) d3.select(this).attr("x", P.l + 2 + w/2);
    });
  g.selectAll("text.s").data(spanNames).join("text").attr("class","s")
    .attr("x",(d,i)=>x(spanLogTau[i])).attr("y", y(yDom[0]+0.1)).attr("text-anchor","middle")
    .attr("font-size",20).attr("font-weight","bold").attr("font-family",FONT).attr("fill","#ff0000")
    .text(d=>d);
  frame(P);
  axis(d3.axisBottom(x), 0, P.b, logTauTicks, 12, 15, d3.format("d"));
  axis(d3.axisBottom(x), 0, P.b, xMinor, 8, 0);
  axis(d3.axisTop(x), 0, P.t, logTauTicks, 12, 0);
  axis(d3.axisTop(x), 0, P.t, xMinor, 7, 0);
  axis(d3.axisLeft(y), P.l, 0, yMajor, 13, 14, d3.format("d"));
  axis(d3.axisLeft(y), P.l, 0, yMinor, 7, 0);
  axis(d3.axisRight(y), P.r, 0, yMajor, 13, 0);
  axis(d3.axisRight(y), P.r, 0, yMinor, 7, 0);
  const xt = svg.append("text").attr("x",(P.l+P.r)/2).attr("y",P.b+78).attr("text-anchor","middle")
    .attr("font-size",30).attr("font-weight","bold").attr("font-family",FONT);
  xt.append("tspan").text("Averaging time, log(");
  xt.append("tspan").attr("font-weight","normal").attr("font-family","'Liberation Serif','DejaVu Serif',serif").text("τ");
  xt.append("tspan").text(") (s)");
  return {x,y};
}
stabilityPanel(P3, [3,6], [-16.5,-10.5], logMdev, mdevTicks, mdevLabels, 20, 4, 0, "c3");
svg.append("text").attr("x",215).attr("y",1539).attr("font-size",17).attr("font-weight","bold")
  .attr("font-family",FONT).text("τ = 1061s");
const yl3 = svg.append("text").attr("transform",`translate(84,${(P3.t+P3.b)/2}) rotate(-90)`).attr("text-anchor","middle")
  .attr("font-size",30).attr("font-weight","bold").attr("font-family",FONT);
yl3.append("tspan").text("Modified Allan Deviation (10");
yl3.append("tspan").attr("font-size",20).attr("dy",-12).text("-15");
yl3.append("tspan").attr("dy",12).text(")");

stabilityPanel(P4, [2.75,6], [-10,-8.5], logTdev, tdevTicks, tdevLabels, 16, 5.5, -3, null);
const yl4 = svg.append("text").attr("transform",`translate(771,${(P4.t+P4.b)/2}) rotate(-90)`).attr("text-anchor","middle")
  .attr("font-size",30).attr("font-weight","bold").attr("font-family",FONT);
yl4.append("tspan").text("Time deviation (10");
yl4.append("tspan").attr("font-size",20).attr("dy",-12).text("-10");
yl4.append("tspan").attr("dy",12).text(" s)");
</script>
</body></html>
